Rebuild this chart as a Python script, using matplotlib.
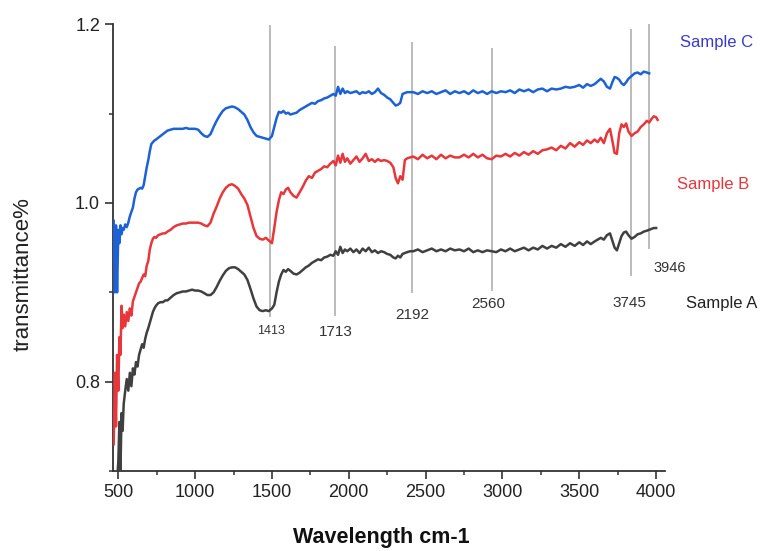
import numpy as np
import matplotlib
matplotlib.use('Agg')
import matplotlib.pyplot as plt
from matplotlib.ticker import MultipleLocator

plt.rcParams['font.family'] = ['Liberation Sans', 'DejaVu Sans']

# wavenumber grid (cm-1), shared by all three spectra
wavenumber = [
    470, 478, 485, 492, 500, 507, 514, 521, 528, 535,
    545, 555, 565, 575, 585, 595, 605, 615, 625, 635,
    645, 655, 665, 675, 685, 695, 705, 715, 725, 735,
    745, 760, 775, 790, 805, 820, 840, 860, 880, 900,
    920, 940, 960, 980, 1000, 1020, 1040, 1060, 1080, 1100,
    1120, 1140, 1160, 1180, 1200, 1220, 1240, 1260, 1280, 1300,
    1320, 1340, 1360, 1380, 1400, 1420, 1440, 1460, 1480, 1500,
    1515, 1530, 1545, 1560, 1575, 1590, 1605, 1620, 1640, 1660,
    1680, 1700, 1720, 1740, 1760, 1780, 1800, 1820, 1840, 1860,
    1880, 1900, 1915, 1930, 1945, 1960, 1975, 1990, 2010, 2030,
    2050, 2070, 2090, 2110, 2130, 2150, 2170, 2190, 2210, 2230,
    2250, 2270, 2290, 2305, 2320, 2335, 2350, 2365, 2380, 2400,
    2420, 2450, 2480, 2510, 2540, 2570, 2600, 2630, 2660, 2690,
    2720, 2750, 2780, 2810, 2840, 2870, 2900, 2930, 2960, 2990,
    3020, 3050, 3080, 3110, 3140, 3170, 3200, 3230, 3260, 3290,
    3320, 3350, 3380, 3410, 3440, 3470, 3500, 3525, 3550, 3575,
    3600, 3620, 3640, 3660, 3680, 3700, 3715, 3730, 3745, 3760,
    3775, 3790, 3805, 3820, 3840, 3860, 3880, 3900, 3920, 3940,
    3955, 3970, 3985, 4000, 4010,
]

nan = np.nan

sample_a = [
    0.66, 0.67, 0.68, 0.69, 0.71, 0.755, 0.70, 0.765, 0.745, 0.775,
    0.79, 0.803, 0.79, 0.81, 0.795, 0.815, 0.808, 0.822, 0.817, 0.83,
    0.836, 0.842, 0.838, 0.848, 0.855, 0.86, 0.866, 0.872, 0.878, 0.882,
    0.885, 0.888, 0.889, 0.889, 0.891, 0.891, 0.894, 0.897, 0.899, 0.9,
    0.901, 0.901, 0.902, 0.903, 0.902, 0.902, 0.901, 0.899, 0.897, 0.897,
    0.9, 0.906, 0.913, 0.919, 0.924, 0.927, 0.928, 0.928, 0.926, 0.923,
    0.92, 0.914, 0.904, 0.893, 0.884, 0.88, 0.879, 0.88, 0.879, 0.882,
    0.886, 0.9, 0.912, 0.92, 0.925, 0.923, 0.926, 0.924, 0.921, 0.92,
    0.922, 0.925, 0.928, 0.93, 0.933, 0.935, 0.937, 0.936, 0.939, 0.94,
    0.942, 0.941, 0.946, 0.942, 0.951, 0.944, 0.948, 0.946, 0.949, 0.945,
    0.948, 0.944, 0.949, 0.946, 0.95, 0.945, 0.947, 0.944, 0.946, 0.945,
    0.943, 0.942, 0.939, 0.938, 0.941, 0.939, 0.943, 0.944, 0.945, 0.946,
    0.946, 0.948, 0.945, 0.947, 0.949, 0.946, 0.948, 0.946, 0.949, 0.947,
    0.948, 0.946, 0.949, 0.945, 0.947, 0.945, 0.947, 0.946, 0.945, 0.948,
    0.946, 0.949, 0.946, 0.948, 0.95, 0.947, 0.95, 0.948, 0.952, 0.949,
    0.952, 0.95, 0.954, 0.951, 0.955, 0.952, 0.956, 0.953, 0.957, 0.954,
    0.957, 0.959, 0.961, 0.959, 0.964, 0.966, 0.958, 0.95, 0.947, 0.955,
    0.963, 0.967, 0.968, 0.964, 0.96, 0.962, 0.965, 0.966, 0.968, 0.969,
    0.97, 0.971, 0.972, 0.972, nan,
]

sample_b = [
    0.73, 0.81, 0.75, 0.83, 0.79, 0.85, 0.83, 0.885, 0.86, 0.875,
    0.862, 0.878, 0.868, 0.882, 0.874, 0.89, 0.895, 0.9, 0.905, 0.91,
    0.912, 0.916, 0.92, 0.918, 0.93, 0.935, 0.948, 0.955, 0.96, 0.962,
    0.961, 0.964, 0.965, 0.966, 0.966, 0.968, 0.97, 0.973, 0.975, 0.976,
    0.977, 0.977, 0.978, 0.978, 0.978, 0.978, 0.977, 0.975, 0.974, 0.978,
    0.988, 0.996, 1.005, 1.012, 1.017, 1.02, 1.021, 1.019, 1.016, 1.01,
    1.005, 0.998, 0.985, 0.972, 0.963, 0.96, 0.959, 0.961, 0.958, 0.955,
    0.972, 0.99, 1.003, 1.012, 1.01, 1.015, 1.017, 1.012, 1.008, 1.006,
    1.012, 1.018, 1.025, 1.03, 1.028, 1.034, 1.036, 1.038, 1.041, 1.04,
    1.044, 1.047, 1.042, 1.053, 1.045, 1.055, 1.046, 1.05, 1.044, 1.048,
    1.052, 1.046, 1.05, 1.055, 1.047, 1.049, 1.046, 1.049, 1.047, 1.048,
    1.047, 1.045, 1.04, 1.028, 1.022, 1.03, 1.026, 1.048, 1.05, 1.051,
    1.052, 1.049, 1.054, 1.05, 1.053, 1.049, 1.054, 1.05, 1.053, 1.051,
    1.051, 1.054, 1.051, 1.055, 1.051, 1.054, 1.05, 1.049, 1.053, 1.052,
    1.055, 1.052, 1.056, 1.053, 1.057, 1.054, 1.058, 1.055, 1.059, 1.06,
    1.062, 1.059, 1.064, 1.061, 1.067, 1.063, 1.068, 1.065, 1.07, 1.067,
    1.071, 1.068, 1.073, 1.067, 1.078, 1.083, 1.07, 1.056, 1.055, 1.078,
    1.088, 1.085, 1.089, 1.08, 1.075, 1.078, 1.08, 1.085, 1.088, 1.092,
    1.09, 1.094, 1.097, 1.096, 1.093,
]

sample_c = [
    0.98, 0.90, 0.975, 0.90, 0.97, 0.955, 0.975, 0.965, 0.972, 0.97,
    0.976, 0.973, 0.978, 0.985, 0.99, 0.995, 1.005, 1.012, 1.015, 1.016,
    1.017, 1.016, 1.02, 1.03, 1.04, 1.048, 1.058, 1.066, 1.068, 1.07,
    1.071, 1.073, 1.075, 1.077, 1.079, 1.081, 1.082, 1.083, 1.083, 1.083,
    1.083, 1.084, 1.083, 1.083, 1.083, 1.082, 1.078, 1.075, 1.074, 1.077,
    1.085, 1.092, 1.098, 1.103, 1.106, 1.107, 1.108, 1.107, 1.105, 1.102,
    1.099, 1.093, 1.085, 1.079, 1.075, 1.074, 1.073, 1.072, 1.071, 1.075,
    1.085, 1.095, 1.102, 1.101, 1.103, 1.1, 1.101, 1.099, 1.1, 1.101,
    1.104, 1.106, 1.108, 1.11, 1.112, 1.111, 1.114, 1.115, 1.117, 1.118,
    1.12, 1.122, 1.12, 1.13, 1.122, 1.128, 1.123, 1.125, 1.123, 1.124,
    1.125, 1.122, 1.124, 1.123, 1.125, 1.122, 1.124, 1.128, 1.123, 1.121,
    1.118, 1.116, 1.112, 1.109, 1.11, 1.112, 1.122, 1.123, 1.124, 1.124,
    1.124, 1.122, 1.125, 1.123, 1.125, 1.122, 1.124, 1.126, 1.122, 1.125,
    1.123, 1.125, 1.122, 1.126, 1.123, 1.125, 1.122, 1.125, 1.123, 1.125,
    1.124, 1.126, 1.123, 1.127, 1.125, 1.127, 1.124, 1.127, 1.128, 1.125,
    1.128, 1.127, 1.128, 1.13, 1.129, 1.13, 1.132, 1.129, 1.133, 1.131,
    1.133, 1.136, 1.139, 1.136, 1.13, 1.128, 1.135, 1.141, 1.14, 1.138,
    1.134, 1.132, 1.135, 1.139, 1.142, 1.145, 1.146, 1.144, 1.147, 1.146,
    1.145, nan, nan, nan, nan,
]

# marker lines: position, top, bottom
peak_pos = [1489, 1912, 2413, 2933, 3838, 3955]
peak_top = [1.199, 1.176, 1.180, 1.173, 1.195, 1.202]
peak_bottom = [0.872, 0.873, 0.899, 0.901, 0.918, 0.948]
# peak labels and where they sit
peak_labels = ['1413', '1713', '2192', '2560', '3745', '3946']
label_x = [1495, 1918, 2413, 2907, 3825, 4091]
label_y = [0.857, 0.856, 0.875, 0.887, 0.888, 0.927]
label_size = [9, 11, 11, 11, 11, 10.5]

fig = plt.figure(figsize=(7.6, 5.51), dpi=100)
ax = fig.add_axes([0.149, 0.145, 0.726, 0.811])

for p, t, b in zip(peak_pos, peak_top, peak_bottom):
    ax.vlines(p, b, t, colors='#a8a8a8', linewidth=1.1, zorder=1)

ax.plot(wavenumber, sample_a, color='#404040', linewidth=1.8, zorder=3)
ax.plot(wavenumber, sample_b, color='#e8363b', linewidth=1.8, zorder=3)
ax.plot(wavenumber, sample_c, color='#1c62d6', linewidth=1.8, zorder=3)

for txt, x, y, s in zip(peak_labels, label_x, label_y, label_size):
    ax.text(x, y, txt, ha='center', va='center', fontsize=s, color='#333333', clip_on=False)

ax.text(4430, 0.888, 'Sample A', ha='center', va='center', fontsize=12, color='#222222', clip_on=False)
ax.text(4371, 1.021, 'Sample B', ha='center', va='center', fontsize=12, color='#e8363b', clip_on=False)
ax.text(4391, 1.180, 'Sample C', ha='center', va='center', fontsize=12, color='#3a3ad0', clip_on=False)

ax.set_xlim(467, 4058)
ax.set_ylim(0.7, 1.2)
ax.xaxis.set_major_locator(MultipleLocator(500))
ax.xaxis.set_minor_locator(MultipleLocator(250))
ax.yaxis.set_minor_locator(MultipleLocator(0.1))
ax.set_yticks([0.8, 1.0, 1.2])
ax.set_yticklabels(['0.8', '1.0', '1.2'])

for side in ['top', 'right']:
    ax.spines[side].set_visible(False)
for side in ['left', 'bottom']:
    ax.spines[side].set_color('#333333')
    ax.spines[side].set_linewidth(1.3)

ax.tick_params(which='major', direction='out', length=6, width=1.2, color='#333333',
               labelsize=13, labelcolor='#222222')
ax.tick_params(which='minor', direction='out', length=3, width=1.1, color='#333333')

ax.set_xlabel('Wavelength cm-1', fontsize=15.5, fontweight='bold', color='#111111')
ax.xaxis.set_label_coords(0.486, -0.125)
ax.set_ylabel('transmittance%', fontsize=16, color='#222222')
ax.yaxis.set_label_coords(-0.145, 0.44)

fig.savefig('out.png', dpi=100)
